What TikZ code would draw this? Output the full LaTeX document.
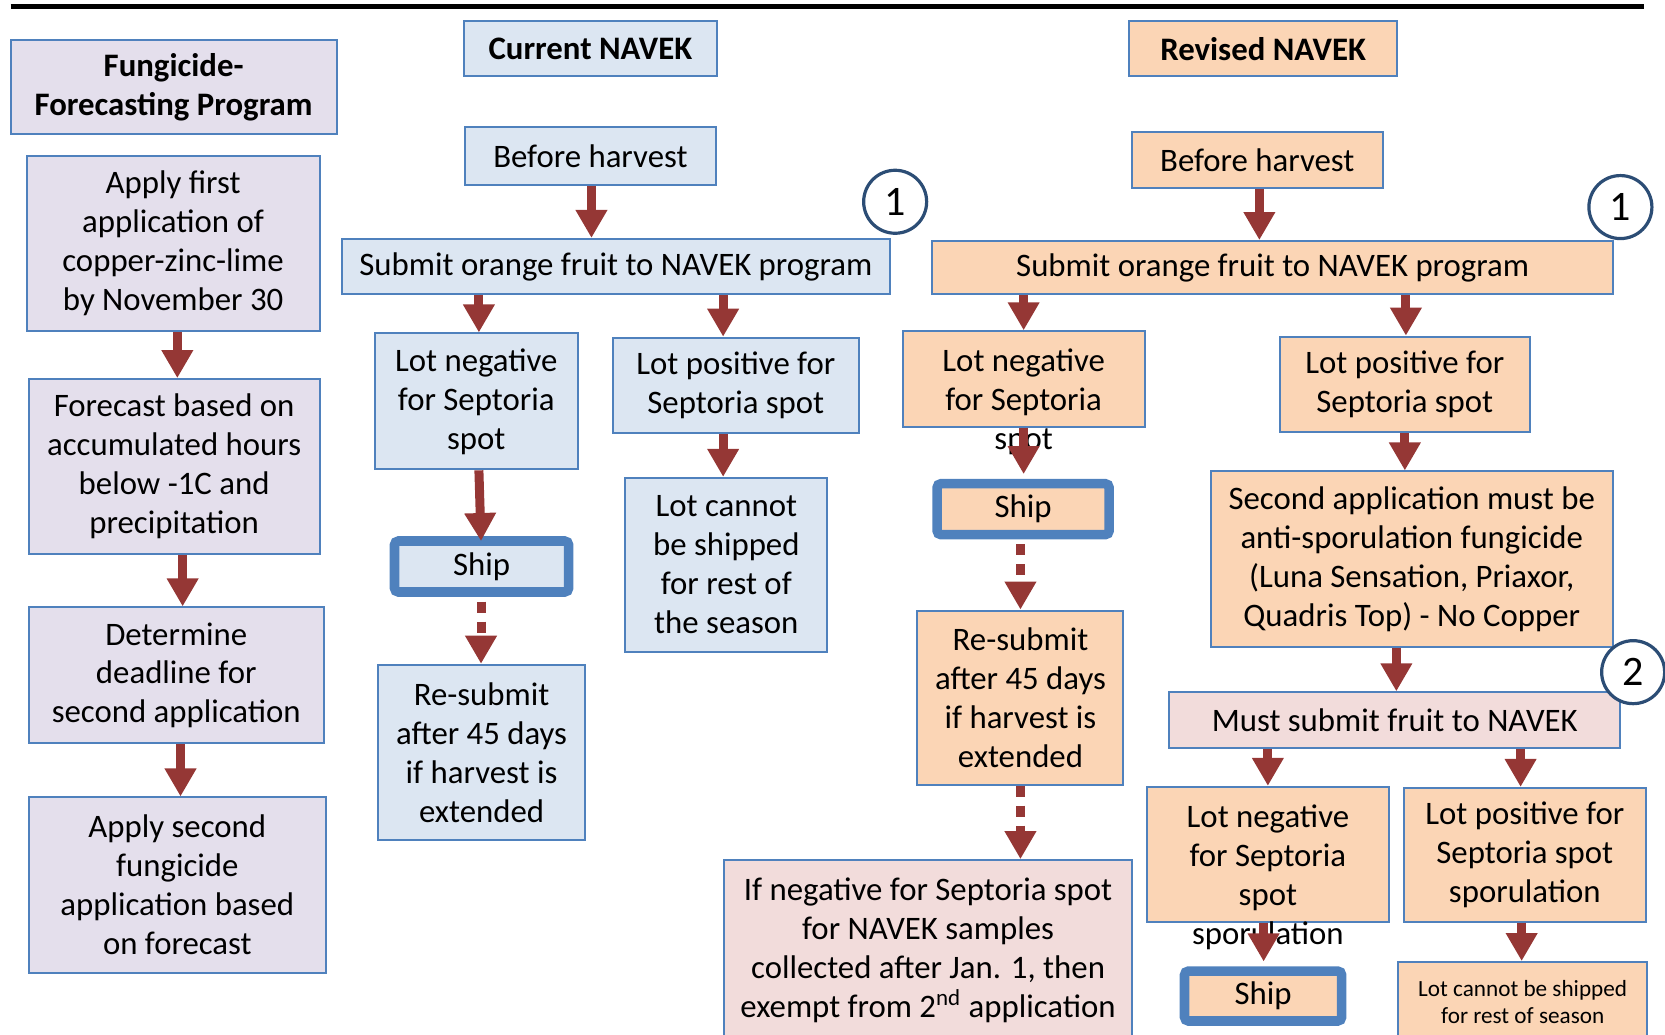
\documentclass[tikz,border=0pt]{standalone}
\usepackage{fontspec}
\setmainfont{Carlito}
\usetikzlibrary{arrows.meta}
\definecolor{bordc}{RGB}{79,129,189}
\definecolor{lavc}{RGB}{228,223,236}
\definecolor{curc}{RGB}{220,230,242}
\definecolor{revc}{RGB}{251,213,181}
\definecolor{pnkc}{RGB}{242,220,219}
\definecolor{arrc}{RGB}{149,55,53}
\definecolor{circc}{RGB}{44,77,117}
\newcommand\normsz{\fontsize{16.4}{19.5}\selectfont}
\newcommand\bx[7]{\node[#2, minimum width={(#5-#3)*0.53095pt}, minimum height={(#6-#4)*0.53095pt}] (#1) at ({(#3+#5)/2},{(#4+#6)/2}) {#7};}
\tikzset{
  base/.style={draw=bordc, line width=1pt, inner sep=0pt, align=center, font=\normsz},
  lav/.style={base, fill=lavc},
  cur/.style={base, fill=curc},
  rev/.style={base, fill=revc},
  pnk/.style={base, fill=pnkc},
  shipbox/.style={line width=4.8pt, rounded corners=2pt},
  txt/.style={inner sep=0pt, align=center, font=\normsz},
  arr/.style={draw=arrc, line width=4.5pt, -{Triangle[width=15pt,length=14pt]}},
  darr/.style={arr, dash pattern=on 5.5pt off 4.5pt},
  num/.style={circle, draw=circc, line width=1.6pt, fill=white, inner sep=0pt,
    minimum size=31.5pt, font=\fontsize{21}{24}\selectfont},
}
\begin{document}
\begin{tikzpicture}[x=0.53095pt, y=-0.53095pt]
\useasboundingbox (0,0) rectangle (1568,974);
\clip (0,0) rectangle (1568,974);
\draw[line width=2.5pt] (10,6) coordinate (tl) -- (1548,6) coordinate (tr);
% left column
\bx{f0}{lav}{10}{38}{317}{126}{\textbf{Fungicide-}\\\textbf{Forecasting Program}}
\bx{f1}{lav}{25}{147}{301}{312}{Apply first\\application of\\copper-zinc-lime\\by November 30}
\bx{f2}{lav}{27}{357}{301}{522}{Forecast based on\\accumulated hours\\below -1C and\\precipitation}
\bx{f3}{lav}{27}{572}{305}{700}{Determine\\deadline for\\second application}
\bx{f4}{lav}{27}{751}{307}{916}{Apply second\\fungicide\\application based\\on forecast}
% current NAVEK
\bx{c0}{cur}{437}{20}{675}{72}{\textbf{Current NAVEK}}
\bx{c1}{cur}{438}{120}{674}{174}{Before harvest}
\bx{c2}{cur}{322}{225}{838}{277}{Submit orange fruit to NAVEK program}
\bx{c3}{cur}{353}{314}{544}{442}{Lot negative\\for Septoria\\spot}
\bx{c4}{cur}{577}{318}{809}{408}{Lot positive for\\Septoria spot}
\bx{c5}{cur}{589}{450}{779}{614}{Lot cannot\\be shipped\\for rest of\\the season}
\bx{c6}{cur,shipbox}{371.5}{509.5}{535.5}{557.5}{Ship}
\bx{c7}{cur}{356}{626}{551}{791}{Re-submit\\after 45 days\\if harvest is\\extended}
\node[num] (n1a) at (843,190) {1};
% revised NAVEK
\bx{r0}{rev}{1063}{20}{1316}{72}{\textbf{Revised NAVEK}}
\bx{r1}{rev}{1066}{124}{1302}{177}{Before harvest}
\bx{r2}{rev}{878}{227}{1519}{277}{Submit orange fruit to NAVEK program}
\bx{r3}{rev}{850}{312}{1078}{402}{}
\node[txt] (r3t) at (964,378) {Lot negative\\for Septoria\\spot};
\bx{r4}{rev,shipbox}{882.5}{455.5}{1044.5}{503.5}{Ship}
\bx{r5}{rev}{864}{575}{1058}{739}{Re-submit\\after 45 days\\if harvest is\\extended}
\bx{r6}{pnk}{682}{810}{1066}{980}{If negative for Septoria spot\\for NAVEK samples\\collected after Jan. 1, then\\exempt from 2\textsuperscript{nd} application}
\bx{r7}{rev}{1205}{317}{1441}{407}{Lot positive for\\Septoria spot}
\bx{r8}{rev}{1140}{444}{1519}{609}{Second application must be\\anti-sporulation fungicide\\(Luna Sensation, Priaxor,\\Quadris Top) - No Copper}
\bx{r9}{pnk}{1101}{652}{1526}{704}{Must submit fruit to NAVEK}
\bx{r10}{rev}{1080}{741}{1308}{868}{}
\node[txt] (r10t) at (1194,826) {Lot negative\\for Septoria\\spot\\sporulation};
\bx{r11}{rev,shipbox}{1115.5}{914.5}{1263.5}{961.5}{Ship}
\bx{r12}{rev}{1322}{742}{1550}{868}{Lot positive for\\Septoria spot\\sporulation}
\bx{r13}{rev,font=\fontsize{11.6}{13.8}\selectfont}{1317}{906}{1551}{981}{Lot cannot be shipped\\for rest of season}
\node[num] (n1b) at (1526,195) {1};
\node[num] (n2) at (1538,633) {2};
% arrows left
\draw[arr] (f1.south -| 167,0) -- (f2.north -| 167,0);
\draw[arr] (f2.south -| 172,0) -- (f3.north -| 172,0);
\draw[arr] (f3.south -| 170,0) -- (f4.north -| 170,0);
% arrows current
\draw[arr] (c1.south -| 557,0) -- (c2.north -| 557,0);
\draw[arr] (c2.south -| 451,0) -- (c3.north -| 451,0);
\draw[arr] (c2.south -| 681,0) -- (c4.north -| 681,0);
\draw[arr] (c4.south -| 681,0) -- (c5.north -| 681,0);
\draw[arr] (c3.south -| 451,0) -- ([yshift=-2.4pt]c6.north -| 453,0);
\draw[darr] ([yshift=-2.4pt]c6.south -| 453,0) -- (c7.north -| 453,0);
% arrows revised
\draw[arr] (r1.south -| 1186,0) -- (r2.north -| 1186,0);
\draw[arr] (r2.south -| 964,0) -- (r3.north -| 964,0);
\draw[arr] (r2.south -| 1324,0) -- (r7.north -| 1324,0);
\draw[arr] (r3.south -| 964,0) -- ([yshift=2.4pt]r4.north -| 964,0);
\draw[darr] ([yshift=-2.4pt]r4.south -| 961,0) -- (r5.north -| 961,0);
\draw[darr] (r5.south -| 961,0) -- (r6.north -| 961,0);
\draw[arr] (r7.south -| 1323,0) -- (r8.north -| 1323,0);
\draw[arr] (r8.south -| 1315,0) -- (r9.north -| 1315,0);
\draw[arr] (r9.south -| 1194,0) -- (r10.north -| 1194,0);
\draw[arr] (r9.south -| 1432,0) -- (r12.north -| 1432,0);
\draw[arr] (r10.south -| 1190,0) -- ([yshift=2.4pt]r11.north -| 1190,0);
\draw[arr] (r12.south -| 1433,0) -- (r13.north -| 1433,0);
\end{tikzpicture}
\end{document}
